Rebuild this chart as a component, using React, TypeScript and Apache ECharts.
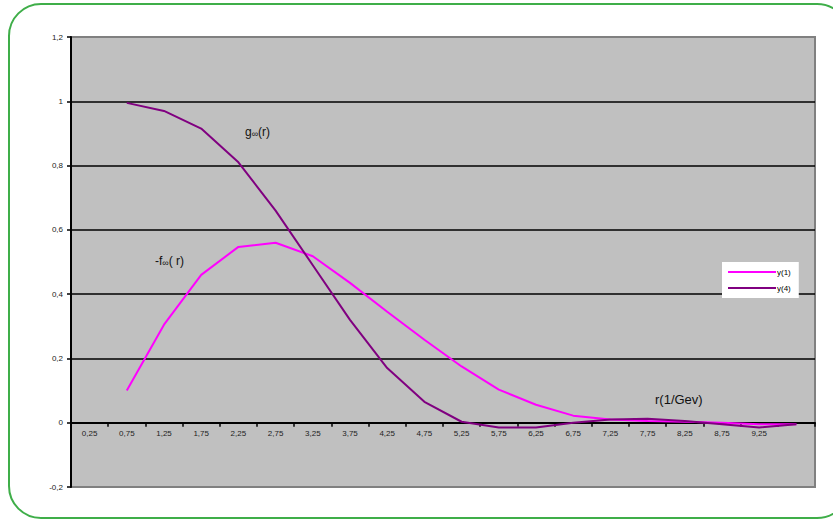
import React, { useEffect, useRef } from 'react';
import * as echarts from 'echarts';

const categories = ['0,25', '0,75', '1,25', '1,75', '2,25', '2,75', '3,25', '3,75', '4,25', '4,75', '5,25', '5,75', '6,25', '6,75', '7,25', '7,75', '8,25', '8,75', '9,25', '9,75'];
const seriesY1 = [null, 0.1, 0.305, 0.46, 0.547, 0.56, 0.518, 0.435, 0.345, 0.258, 0.175, 0.103, 0.056, 0.022, 0.01, 0.005, 0.003, 0.0, -0.005, -0.005];
const seriesY4 = [null, 0.995, 0.97, 0.915, 0.81, 0.66, 0.49, 0.32, 0.17, 0.065, 0.003, -0.015, -0.015, 0.0, 0.01, 0.012, 0.005, -0.005, -0.015, -0.005];
const seriesNames = ['y(1)', 'y(4)'];

export default function App() {
  const ref = useRef<HTMLDivElement>(null);
  useEffect(() => {
    if (!ref.current) return;
    const chart = echarts.init(ref.current, null, { renderer: 'svg' });
    const font = 'Arial, "Liberation Sans", sans-serif';
    chart.setOption({
      animation: false,
      textStyle: { fontFamily: font },
      grid: {
        left: 71, right: 18, top: 37, bottom: 35,
        show: true, backgroundColor: '#c0c0c0', borderColor: '#808080', borderWidth: 2,
      },
      legend: {
        orient: 'vertical',
        left: 722, top: 262,
        backgroundColor: '#ffffff',
        padding: [6, 8, 6, 6],
        itemGap: 8,
        itemWidth: 48,
        itemHeight: 2,
        icon: 'rect',
        textStyle: { fontSize: 8, color: '#000', padding: [0, 0, 0, -4] },
        data: seriesNames,
      },
      xAxis: {
        type: 'category',
        data: categories,
        boundaryGap: true,
        axisLine: { onZero: true, lineStyle: { color: '#000', width: 2 } },
        axisTick: { show: true, length: 4, lineStyle: { color: '#000', width: 1.5 } },
        axisLabel: {
          interval: 0, fontSize: 8, color: '#222', margin: -58,
          formatter: (v: string, i: number) => (i === categories.length - 1 ? '' : v),
        },
        splitLine: { show: false },
      },
      yAxis: {
        type: 'value',
        min: -0.2, max: 1.2, interval: 0.2,
        axisLine: { show: true, lineStyle: { color: '#000', width: 2 } },
        axisTick: { show: true, length: 4, lineStyle: { color: '#000', width: 1.5 } },
        axisLabel: {
          fontSize: 8, color: '#222', margin: 8,
          formatter: (v: number) => String(Math.round(v * 10) / 10).replace('.', ','),
        },
        splitLine: { show: true, showMinLine: false, showMaxLine: false, lineStyle: { color: '#000', width: 1.5 } },
      },
      series: [
        {
          name: seriesNames[0], type: 'line', data: seriesY1, showSymbol: false, symbol: 'none',
          lineStyle: { color: '#ff00ff', width: 2 }, itemStyle: { color: '#ff00ff' },
        },
        {
          name: seriesNames[1], type: 'line', data: seriesY4, showSymbol: false, symbol: 'none',
          lineStyle: { color: '#800080', width: 2 }, itemStyle: { color: '#800080' },
        },
      ],
      graphic: [
        {
          type: 'rect', silent: true, z: -10,
          shape: { x: 9, y: 4, width: 840, height: 514, r: 32 },
          style: { fill: 'none', stroke: '#3fae49', lineWidth: 2 },
        },
        {
          type: 'text', left: 245, top: 126,
          style: {
            text: '{a|g}{b|∞}{a|(r)}',
            rich: {
              a: { fontSize: 12, fill: '#111', fontFamily: font },
              b: { fontSize: 9, fill: '#111', fontFamily: font, padding: [4, 0, 0, 0] },
            },
          },
        },
        {
          type: 'text', left: 155, top: 255,
          style: {
            text: '{a|-f}{b|∞}{a|( r)}',
            rich: {
              a: { fontSize: 12, fill: '#111', fontFamily: font },
              b: { fontSize: 9, fill: '#111', fontFamily: font, padding: [4, 0, 0, 0] },
            },
          },
        },
        {
          type: 'text', left: 655, top: 393,
          style: { text: 'r(1/Gev)', fontSize: 13, fill: '#111', fontFamily: font },
        },
      ],
    });
    return () => chart.dispose();
  }, []);
  return <div ref={ref} style={{ position: 'absolute', left: 0, top: 0, width: 833, height: 522 }} />;
}
